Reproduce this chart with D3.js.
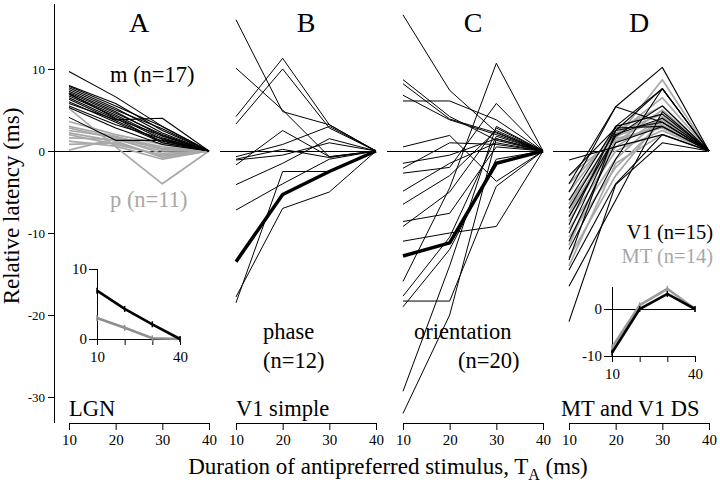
<!DOCTYPE html>
<html><head><meta charset="utf-8">
<script src="https://cdn.jsdelivr.net/npm/d3@7"></script>
<style>
body{margin:0;background:#fff}
svg{display:block}
text{font-family:"Liberation Serif","DejaVu Serif",serif;fill:#000}
</style>
</head><body>
<svg id="c" width="720" height="489"></svg>
<script>
// ---------- data ----------
const durations = [10, 20, 30, 40];
const xTickValues = [10, 20, 30, 40];
const yTickValues = [10, 0, -10, -20, -30];
const panelLetters = ["A", "B", "C", "D"];
const areaLabels = ["LGN", "V1 simple", "", "MT and V1 DS"];

// Panel A: LGN magno (black) and parvo (gray)
const lgnM = [
  [9.7, 6.6, 3.0, 0], [8.0, 5.8, 2.5, 0], [7.9, 5.5, 3.0, 0], [7.7, 5.2, 2.2, 0],
  [7.5, 5.0, 2.7, 0], [7.3, 4.8, 1.8, 0], [7.1, 4.6, 2.0, 0], [6.9, 4.4, 1.6, 0],
  [6.7, 4.2, 1.4, 0], [6.5, 3.9, 1.9, 0], [6.3, 3.7, 1.2, 0], [6.0, 3.5, 1.0, 0],
  [5.8, 3.8, 4.0, 0], [5.5, 3.2, 1.5, 0], [5.3, 2.8, 0.8, 0], [7.0, 4.0, 1.0, 0],
  [4.1, 1.3, 1.3, 0]
];
const lgnP = [
  [5.2, 0.5, -4.0, 0], [3.6, 2.0, 0.8, 0], [3.0, 1.8, 0.2, 0], [2.8, 1.5, -0.3, 0],
  [2.5, 1.7, 0.5, 0], [2.2, 1.2, -0.8, 0], [2.0, 0.8, -0.5, 0], [1.6, 1.4, 0.0, 0],
  [1.2, 0.6, -1.0, 0], [0.8, 1.0, -0.6, 0], [0.1, 1.5, 0.3, 0]
];
// Panel B: V1 simple, phase
const v1Phase = [
  [16.0, 4.8, 3.2, 0], [10.1, 5.0, -0.7, 0], [4.2, 11.3, 3.2, 0], [3.3, 10.0, 2.8, 0],
  [-0.7, 0.8, 3.0, 0], [-1.7, 2.5, -0.7, 0], [-1.1, -0.5, 1.0, 0], [-4.1, -1.5, 1.5, 0],
  [-7.2, -4.0, -1.0, 0], [-18.5, -2.5, -2.5, 0], [-17.8, -7.0, -5.0, 0], [-1.0, 0.2, -0.8, 0]
];
const v1PhaseMean = [-13.5, -5.3, -2.5, 0];
// Panel C: V1 simple, orientation
const v1Orient = [
  [16.6, 7.4, 2.3, 0], [8.7, 4.2, 1.3, 0], [6.8, 3.8, 2.0, 0], [6.1, 6.1, 3.8, 0],
  [8.2, 3.9, 2.2, 0], [0.5, 1.9, -3.7, 0], [-1.5, -0.5, 1.5, 0], [-2.1, 1.0, 0.8, 0],
  [-2.7, -2.0, 5.8, 0], [-4.9, -1.5, 1.0, 0], [-8.6, -7.6, 0.5, 0], [-9.2, -5.0, 2.8, 0],
  [-11.0, -10.0, -9.2, 0], [-15.9, -4.5, 10.7, 0], [-17.7, -10.5, 1.8, 0], [-18.3, -18.3, -4.3, 0],
  [-19.0, -12.0, -1.0, 0], [-29.3, -14.0, 3.0, 0], [-32.0, -20.0, 1.5, 0], [-6.5, -3.0, 2.5, 0]
];
const v1OrientMean = [-12.8, -11.2, -1.5, 0];
// Panel D: direction selective V1 (black) and MT (gray)
const dsV1 = [
  [-4.0, 5.4, 10.2, 0], [-5.0, 5.4, 3.5, 0], [-1.1, 0.5, 2.0, 0], [-6.0, 3.0, 7.6, 0],
  [-7.0, 2.5, 7.6, 0], [-8.0, 1.8, 5.5, 0], [-9.0, 3.0, 4.5, 0], [-10.0, 2.0, 4.0, 0],
  [-11.0, 1.0, 3.0, 0], [-12.0, -1.0, 7.6, 0], [-13.3, 2.5, 3.5, 0], [-14.5, -4.0, 2.0, 0],
  [-16.5, -6.0, 4.8, 0], [-20.8, -4.1, 1.0, 0], [-3.0, 2.8, 3.0, 0]
];
const dsMT = [
  [-3.0, 1.5, 8.7, 0], [-4.0, 2.0, 6.5, 0], [-5.0, 2.5, 5.5, 0], [-6.0, 1.0, 5.0, 0],
  [-6.5, 2.2, 4.5, 0], [-7.0, 0.5, 4.0, 0], [-7.5, 1.8, 3.8, 0], [-8.0, 1.2, 3.2, 0],
  [-8.5, 0.0, 2.5, 0], [-9.5, -1.0, 4.2, 0], [-10.5, -2.0, 3.5, 0], [-11.5, 1.5, 2.8, 0],
  [-13.0, -3.0, 4.0, 0], [-14.0, -1.5, 2.0, 0]
];
// Insets (population means)
const insetAm = [6.9, 4.3, 2.1, 0];
const insetAp = [3.0, 1.6, 0.1, 0];
const insetDv1 = [-9.3, 0.0, 3.2, 0];
const insetDmt = [-8.2, 0.8, 4.3, 0];

// ---------- drawing ----------
const BLACK = "#000", GRAY = "#a8a8a8";
const svg = d3.select("#c");
const y = d3.scaleLinear().domain([-30, 10]).range([397, 69]);
const panelLeft = [69, 236, 403, 569];
const xs = panelLeft.map(l => d3.scaleLinear().domain([10, 40]).range([l, l + 140]));
const AXIS_Y = 423;

// Y axis
const ya = svg.append("g").attr("transform", "translate(54,0)")
  .call(d3.axisLeft(y).tickValues(yTickValues).tickSize(6).tickPadding(3).tickFormat(d => String(d)));
ya.select(".domain").remove();
ya.selectAll("text").style("font-size", "13px").style("font-family", "Liberation Serif");
ya.append("line").attr("x1", 0.5).attr("x2", 0.5).attr("y1", 4).attr("y2", AXIS_Y).attr("stroke", BLACK);

// X axes
xs.forEach((xsc, i) => {
  const g = svg.append("g").attr("transform", `translate(0,${AXIS_Y})`)
    .call(d3.axisBottom(xsc).tickValues(xTickValues).tickSize(7).tickSizeOuter(0).tickPadding(4).tickFormat(d => String(d)));
  g.selectAll("text").style("font-size", "15px").style("font-family", "Liberation Serif");
});

// Zero lines
xs.forEach(xsc => {
  svg.append("line").attr("x1", xsc(10) - 16).attr("x2", xsc(40))
    .attr("y1", y(0) + 0.5).attr("y2", y(0) + 0.5).attr("stroke", BLACK).attr("stroke-width", 1);
});

function drawLines(i, data, color, width) {
  const line = d3.line().x((d, j) => xs[i](durations[j])).y(d => y(d));
  svg.append("g").selectAll("path").data(data).join("path")
    .attr("d", line).attr("fill", "none").attr("stroke", color)
    .attr("stroke-width", width).attr("stroke-linejoin", "round");
}
drawLines(0, lgnP, GRAY, 1.7);
drawLines(0, lgnM, BLACK, 1.1);
drawLines(1, v1Phase, BLACK, 1);
drawLines(1, [v1PhaseMean], BLACK, 3.5);
drawLines(2, v1Orient, BLACK, 1);
drawLines(2, [v1OrientMean], BLACK, 3.5);
drawLines(3, dsMT, GRAY, 1.7);
drawLines(3, dsV1, BLACK, 1.1);

// Panel letters and area labels
panelLetters.forEach((t, i) => {
  svg.append("text").attr("x", xs[i](25)).attr("y", 32).attr("text-anchor", "middle")
    .style("font-size", "28px").text(t);
});
const labelX = [69, 236, 403, 561];
areaLabels.forEach((t, i) => {
  if (!t) return;
  svg.append("text").attr("x", labelX[i]).attr("y", 416).style("font-size", "22.5px").text(t);
});
function label(x, yy, t, color, anchor, size) {
  svg.append("text").attr("x", x).attr("y", yy).attr("text-anchor", anchor || "start")
    .style("font-size", size || "22.5px").style("fill", color || BLACK).text(t);
}
label(110, 82, "m (n=17)");
label(110, 207, "p (n=11)", GRAY);
label(263, 339, "phase");
label(263, 368, "(n=12)");
label(414, 339, "orientation");
label(458, 368, "(n=20)");
label(713, 239, "V1 (n=15)", BLACK, "end", "20.5px");
label(713, 263, "MT (n=14)", GRAY, "end", "20.5px");

// Axis titles
svg.append("text").attr("transform", "translate(19,206) rotate(-90)")
  .attr("text-anchor", "middle").style("font-size", "23px").text("Relative latency (ms)");
const xt = svg.append("text").attr("x", 388).attr("y", 474).attr("text-anchor", "middle")
  .style("font-size", "23px");
xt.append("tspan").text("Duration of antipreferred stimulus, T");
xt.append("tspan").attr("dy", 6).style("font-size", "16px").text("A");
xt.append("tspan").attr("dy", -6).text(" (ms)");

// ---------- insets ----------
function inset(xr, yDom, yr, yTicks, axisTop, series, zeroY) {
  const ix = d3.scaleLinear().domain([10, 40]).range(xr);
  const iy = d3.scaleLinear().domain(yDom).range(yr);
  const g = svg.append("g");
  const yax = g.append("g").attr("transform", `translate(${xr[0]},0)`)
    .call(d3.axisLeft(iy).tickValues(yTicks).tickSize(8).tickPadding(2).tickFormat(d => String(d)));
  yax.select(".domain").remove();
  yax.append("line").attr("x1", 0.5).attr("x2", 0.5).attr("y1", axisTop).attr("y2", yr[0]).attr("stroke", BLACK);
  g.append("g").attr("transform", `translate(0,${yr[0]})`)
    .call(d3.axisBottom(ix).tickValues(xTickValues).tickSize(6).tickSizeOuter(0).tickPadding(6)
      .tickFormat(d => (d === 10 || d === 40) ? String(d) : ""));
  g.selectAll("text").style("font-size", "15px").style("font-family", "Liberation Serif");
  if (zeroY) {
    g.append("line").attr("x1", xr[0]).attr("x2", xr[1]).attr("y1", iy(0) + 0.5).attr("y2", iy(0) + 0.5).attr("stroke", BLACK);
  }
  const line = d3.line().x((d, j) => ix(durations[j])).y(d => iy(d));
  series.forEach(s => {
    g.append("path").attr("d", line(s.data)).attr("fill", "none").attr("stroke", s.color).attr("stroke-width", 2.6);
    g.selectAll(null).data(s.data).join("line")
      .attr("x1", (d, j) => ix(durations[j])).attr("x2", (d, j) => ix(durations[j]))
      .attr("y1", d => iy(d) - 3).attr("y2", d => iy(d) + 3)
      .attr("stroke", s.color).attr("stroke-width", 1.5);
  });
}
inset([97, 180], [0, 10], [339, 269], [0, 10], 269,
  [{data: insetAp, color: "#8f8f8f"}, {data: insetAm, color: BLACK}], false);
inset([612, 695], [-10, 0], [356, 309], [-10, 0], 287,
  [{data: insetDmt, color: "#9a9a9a"}, {data: insetDv1, color: BLACK}], true);
</script>
</body></html>
